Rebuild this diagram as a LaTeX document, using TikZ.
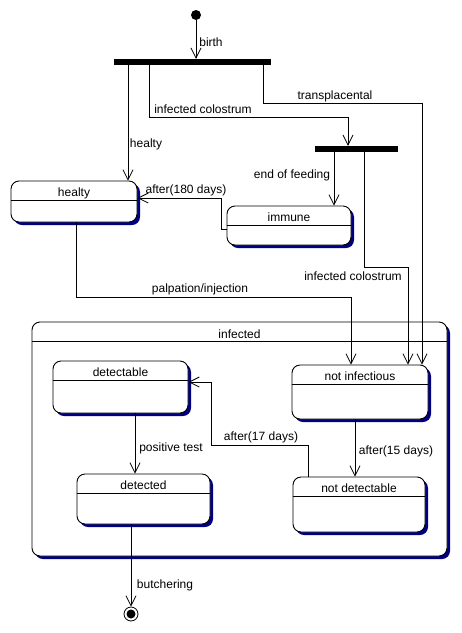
\documentclass[tikz,border=0pt]{standalone}
\usepackage{fontspec}
\setmainfont{Liberation Sans}
\usetikzlibrary{arrows.meta,shadows}
\definecolor{shadowblue}{RGB}{0,0,128}
\begin{document}
\begin{tikzpicture}[x=1pt,y=-1pt,
  every node/.style={font=\fontsize{12}{14}\selectfont},
  state/.style={draw, line width=0.9pt, rounded corners=8pt, fill=white,
    drop shadow={shadow xshift=3pt, shadow yshift=-3pt, fill=shadowblue, opacity=1},
    inner sep=0pt},
  lbl/.style={inner sep=0pt, anchor=center, text height=8.6pt, text depth=0pt},
  bar/.style={fill=black, inner sep=0pt},
  ln/.style={line width=0.8pt},
  arr/.style={line width=0.8pt, -{Straight Barb[length=10pt,width=10pt]}}]
\useasboundingbox (0,0) rectangle (462,633);

% pseudo states
\node[circle, fill=black, minimum size=10pt, inner sep=0pt] (init) at (196,15) {};
\node[bar, minimum width=157pt, minimum height=6pt] (bar1) at (192.5,62) {};
\node[bar, minimum width=83pt, minimum height=6pt] (bar2) at (356.5,149) {};

% composite state
\node[state, minimum width=415pt, minimum height=234pt] (infected) at (239.5,439) {};
\draw[ln] ([yshift=-20pt]infected.north west) -- ([yshift=-20pt]infected.north east);
\node[lbl] (infectedT) at ([yshift=-12.5pt]infected.north) {infected};

% states
\node[state, minimum width=126pt, minimum height=41pt] (healty) at (74,201.5) {};
\node[state, minimum width=124pt, minimum height=39pt] (immune) at (289,225.5) {};
\node[state, minimum width=135pt, minimum height=52pt] (detectable) at (120.5,387) {};
\node[state, minimum width=133pt, minimum height=50pt] (detected) at (143.5,499) {};
\node[state, minimum width=136pt, minimum height=54pt] (notinf) at (360,392) {};
\node[state, minimum width=132pt, minimum height=55pt] (notdet) at (359,504.5) {};

\foreach \s/\t in {healty/healty, immune/immune, detectable/detectable, detected/detected, notinf/not infectious, notdet/not detectable}{
  \draw[ln] ([yshift=-20pt]\s.north west) -- ([yshift=-20pt]\s.north east);
  \node[lbl] (\s T) at ([yshift=-11.5pt]\s.north) {\t};
}

% final state
\node[circle, draw, line width=0.8pt, fill=white, minimum size=14pt, inner sep=0pt] (final) at (131,614) {};
\node[circle, fill=black, minimum size=9pt, inner sep=0pt] (finalin) at (final) {};

% bend coordinates
\coordinate (hx) at (128,0);
\coordinate (ic1a) at (149,117);
\coordinate (ic1b) at (348,117);
\coordinate (tp1) at (263,103);
\coordinate (tp2) at (422,103);
\coordinate (ef) at (334,0);
\coordinate (ic2a) at (364,267);
\coordinate (ic2b) at (408,267);
\coordinate (a1) at (221,229);
\coordinate (a2) at (221,198);
\coordinate (p1) at (76,297);
\coordinate (p2) at (351,297);
\coordinate (pt) at (135,0);
\coordinate (af) at (355,0);
\coordinate (q1) at (308,445);
\coordinate (q2) at (211,445);
\coordinate (q3) at (211,382);

% transitions
\draw[arr] (init) -- (init |- bar1.north);
\draw[arr] (bar1.south -| hx) -- (healty.north -| hx);
\draw[arr] (bar1.south -| ic1a) -- (ic1a) -- (ic1b) -- (bar2.north -| ic1b);
\draw[arr] (bar1.south -| tp1) -- (tp1) -- (tp2) -- (notinf.north -| tp2);
\draw[arr] (bar2.south -| ef) -- (immune.north -| ef);
\draw[arr] (bar2.south -| ic2a) -- (ic2a) -- (ic2b) -- (notinf.north -| ic2b);
\draw[arr] (immune.west |- a1) -- (a1) -- (a2) -- (healty.east |- a2);
\draw[arr] (healty.south -| p1) -- (p1) -- (p2) -- (notinf.north -| p2);
\draw[arr] (detectable.south -| pt) -- (detected.north -| pt);
\draw[arr] (notinf.south -| af) -- (notdet.north -| af);
\draw[arr] (notdet.north -| q1) -- (q1) -- (q2) -- (q3) -- (detectable.east |- q3);
\draw[arr] (detected.south -| final) -- (final.north);

% transition labels
\node[lbl] (lbirth) at (211,42) {birth};
\node[lbl] (lhealty) at (146,143) {healty};
\node[lbl] (lic1) at (203,109) {infected colostrum};
\node[lbl] (ltp) at (335,95) {transplacental};
\node[lbl] (lef) at (292,174) {end of feeding};
\node[lbl] (l180) at (186,189) {after(180 days)};
\node[lbl] (lic2) at (353,276) {infected colostrum};
\node[lbl] (lpalp) at (200,288) {palpation/injection};
\node[lbl] (lpos) at (171,447) {positive test};
\node[lbl] (l15) at (396,450) {after(15 days)};
\node[lbl] (l17) at (261,436) {after(17 days)};
\node[lbl] (lbut) at (165,584) {butchering};
\end{tikzpicture}
\end{document}
